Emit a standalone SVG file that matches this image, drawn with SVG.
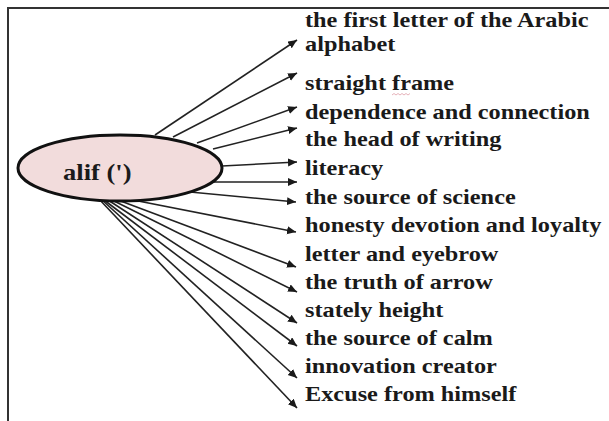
<svg xmlns="http://www.w3.org/2000/svg" width="609" height="421" viewBox="0 0 609 421">
  <defs>
    <marker id="ah" markerUnits="userSpaceOnUse" markerWidth="12" markerHeight="10" refX="9" refY="4" orient="auto">
      <path d="M0,0 L9,4 L0,8 Z" fill="#1a1a1a"/>
    </marker>
    <style>
      .frame { stroke: #333; stroke-width: 2; fill: none; }
      .conn line { stroke: #222; stroke-width: 1.6; marker-end: url(#ah); }
      .lbl { font-family: "Liberation Serif", "DejaVu Serif", serif; font-weight: bold; font-size: 21.5px; fill: #1a1a1a; }
      .big { font-size: 23.5px; }
    </style>
  </defs>
  <rect width="609" height="421" fill="#ffffff"/>
  <path class="frame" d="M8,421 L8,8 L609,8"/>

  <g id="connectors" class="conn">
    <line x1="155" y1="135" x2="297" y2="40"/>
    <line x1="173" y1="137" x2="297" y2="73"/>
    <line x1="197" y1="143" x2="297" y2="107"/>
    <line x1="213" y1="149" x2="297" y2="128"/>
    <line x1="222" y1="166" x2="297" y2="162"/>
    <line x1="212" y1="182" x2="297" y2="182"/>
    <line x1="190" y1="192" x2="296" y2="202"/>
    <line x1="128" y1="199" x2="296" y2="232"/>
    <line x1="118" y1="200" x2="296" y2="267"/>
    <line x1="112" y1="200" x2="297" y2="292"/>
    <line x1="108" y1="200" x2="297" y2="323"/>
    <line x1="104" y1="200" x2="297" y2="346"/>
    <line x1="101" y1="199" x2="297" y2="378"/>
    <line x1="98" y1="198" x2="297" y2="408"/>
  </g>

  <g id="node-alif">
    <ellipse cx="120" cy="168" rx="102" ry="33" fill="#f2dcdc" stroke="#111" stroke-width="3"/>
    <text class="lbl big" transform="translate(63 180) scale(1.13 1)" x="0" y="0">alif (')</text>
  </g>

  <g id="labels" transform="translate(305 0) scale(1.13 1)">
    <g id="node-first-letter"><text class="lbl" x="0" y="27.5">the first letter of the Arabic<tspan x="0" y="51.5">alphabet</tspan></text></g>
    <g id="node-straight-frame"><text class="lbl" x="0" y="90">straight frame</text></g>
    <g id="node-dependence"><text class="lbl" x="0" y="119">dependence and connection</text></g>
    <g id="node-head"><text class="lbl" x="0" y="146">the head of writing</text></g>
    <g id="node-literacy"><text class="lbl" x="0" y="175">literacy</text></g>
    <g id="node-science"><text class="lbl" x="0" y="204">the source of science</text></g>
    <g id="node-honesty"><text class="lbl" x="0" y="232">honesty devotion and loyalty</text></g>
    <g id="node-letter"><text class="lbl" x="0" y="261">letter and eyebrow</text></g>
    <g id="node-truth"><text class="lbl" x="0" y="289">the truth of arrow</text></g>
    <g id="node-stately"><text class="lbl" x="0" y="317">stately height</text></g>
    <g id="node-calm"><text class="lbl" x="0" y="345">the source of calm</text></g>
    <g id="node-innovation"><text class="lbl" x="0" y="373">innovation creator</text></g>
    <g id="node-excuse"><text class="lbl" x="0" y="401">Excuse from himself</text></g>
  </g>
  <path d="M392,95 l2,-1.5 l2,1.5 l2,-1.5 l2,1.5 l2,-1.5 l2,1.5 l2,-1.5 l2,1.5 l2,-1.5" fill="none" stroke="#e0a0a8" stroke-width="0.8"/>
</svg>
